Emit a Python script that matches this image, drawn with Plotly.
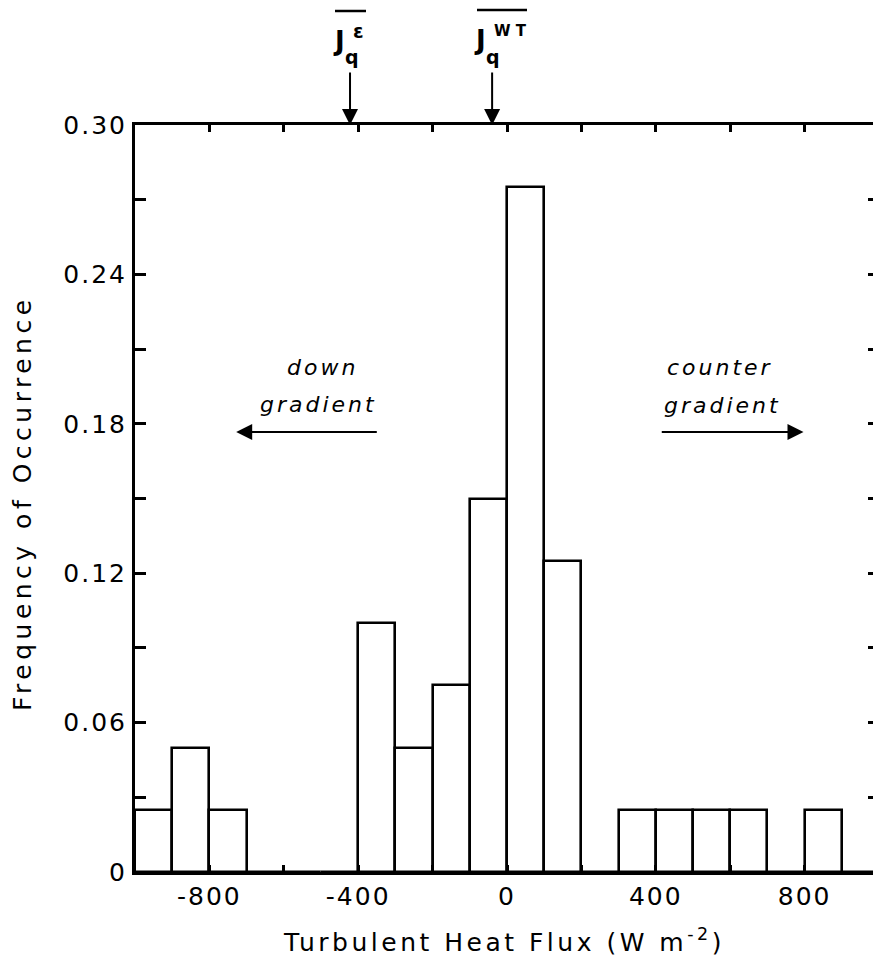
import plotly.graph_objects as go

# ---------------- data ----------------
bin_left = [-1000, -900, -800, -700, -600, -500, -400, -300, -200, -100,
            0, 100, 200, 300, 400, 500, 600, 700, 800, 900]
bin_width = 100
frequency = [0.025, 0.05, 0.025, 0.0, 0.0, 0.0, 0.10, 0.05, 0.075, 0.15,
             0.275, 0.125, 0.0, 0.025, 0.025, 0.025, 0.025, 0.0, 0.025, 0.0]

x_tick_vals = [-800, -600, -400, -200, 0, 200, 400, 600, 800]
x_tick_text = ["-800", "", "-400", "", "0", "", "400", "", "800"]
y_tick_vals = [0, 0.03, 0.06, 0.09, 0.12, 0.15, 0.18, 0.21, 0.24, 0.27, 0.30]
y_tick_text = ["0", "", "0.06", "", "0.12", "", "0.18", "", "0.24", "", "0.30"]

j_eps_value = -422   # mean flux from dissipation method
j_wt_value = -40     # mean flux from w'T' method

x_title = "Turbulent Heat Flux (W m<sup>-2</sup>)"
y_title = "Frequency of Occurrence"

# ---------------- layout constants ----------------
# figure slightly wider than the window so the right frame line falls just
# outside the visible page, as in the (cropped) reference
W, H = 882, 957
L, R, T, B = 135, 879, 125, 872
FONT = "DejaVu Sans"


def sp(text, px):
    return f'<span style="letter-spacing:{px}px">{text}</span>'


def px2paper(px, py):
    return (px - L) / (R - L), (B - py) / (B - T)


fig = go.Figure()
fig.add_trace(go.Bar(
    x=bin_left, y=frequency, width=bin_width, offset=0,
    marker=dict(color="white", line=dict(color="black", width=2.6)),
    showlegend=False, hoverinfo="skip",
))

axis_common = dict(showgrid=False, zeroline=False, showline=True,
                   linecolor="black", linewidth=3, ticks="inside",
                   tickcolor="black", tickwidth=2.5, mirror="ticks",
                   automargin=False,
                   tickfont=dict(family=FONT, size=25, color="black"))

fig.update_xaxes(range=[-1000, 1000], tickmode="array", tickvals=x_tick_vals,
                 ticktext=[sp(t, 2) for t in x_tick_text], ticklen=7,
                 **axis_common)
fig.update_yaxes(range=[0, 0.30], tickmode="array", tickvals=y_tick_vals,
                 ticktext=[sp(t, 2) for t in y_tick_text], ticklen=11,
                 **axis_common)

ann = []
# axis titles
xt = px2paper(504, 940)
ann.append(dict(xref="paper", yref="paper", x=xt[0], y=xt[1], text=sp(x_title, 3.5),
                showarrow=False, font=dict(family=FONT, size=25, color="black"),
                xanchor="center", yanchor="middle"))
yt = px2paper(22, 503)
ann.append(dict(xref="paper", yref="paper", x=yt[0], y=yt[1], text=sp(y_title, 4.5),
                textangle=-90, showarrow=False,
                font=dict(family=FONT, size=25, color="black"),
                xanchor="center", yanchor="middle"))

# direction labels
ital = dict(family=FONT, size=22, color="black")
for txt, px, py in [("down", 322, 367), ("gradient", 318, 404),
                    ("counter", 720, 367), ("gradient", 722, 405)]:
    p = px2paper(px, py)
    ann.append(dict(xref="paper", yref="paper", x=p[0], y=p[1],
                    text=f"<i>{sp(txt, 3)}</i>", showarrow=False, font=ital,
                    xanchor="center", yanchor="middle"))

arrow_y = 0.1767
ann.append(dict(x=-728, y=arrow_y, ax=-346, ay=arrow_y, xref="x", yref="y",
                axref="x", ayref="y", text="", showarrow=True, arrowhead=2,
                arrowsize=1.6, arrowwidth=2, arrowcolor="black"))
ann.append(dict(x=797, y=arrow_y, ax=412, ay=arrow_y, xref="x", yref="y",
                axref="x", ayref="y", text="", showarrow=True, arrowhead=2,
                arrowsize=1.6, arrowwidth=2, arrowcolor="black"))

# mean-flux markers on top
for val in (j_eps_value, j_wt_value):
    ann.append(dict(x=val, y=1, xref="x", yref="paper", ax=0, ay=-54,
                    text="", showarrow=True, arrowhead=2, arrowsize=1.6,
                    arrowwidth=2, arrowcolor="black"))

shapes = []
for txt, size, px, py in [("J", 26, 339, 41), ("q", 19, 352, 57),
                          ("ε", 19, 358, 31),
                          ("J", 26, 480, 40), ("q", 19, 493, 57),
                          ("W T", 15, 510, 31)]:
    p = px2paper(px, py)
    ann.append(dict(xref="paper", yref="paper", x=p[0], y=p[1], text=f"<b>{txt}</b>",
                    showarrow=False, font=dict(family=FONT, size=size, color="black"),
                    xanchor="center", yanchor="middle"))

for x0, x1, py in [(335, 366, 11), (477, 527, 10)]:
    a = px2paper(x0, py)
    b = px2paper(x1, py)
    shapes.append(dict(type="line", xref="paper", yref="paper", x0=a[0], x1=b[0],
                       y0=a[1], y1=b[1], line=dict(color="black", width=2.5)))

fig.update_layout(
    width=W, height=H, autosize=False,
    margin=dict(l=L, r=W - R, t=T, b=H - B, autoexpand=False),
    paper_bgcolor="white", plot_bgcolor="white",
    annotations=ann, shapes=shapes, bargap=0,
)

fig.write_html("out.html", config={"displayModeBar": False, "responsive": False},
               post_script="document.body.style.margin='0';document.body.style.overflow='hidden';")
